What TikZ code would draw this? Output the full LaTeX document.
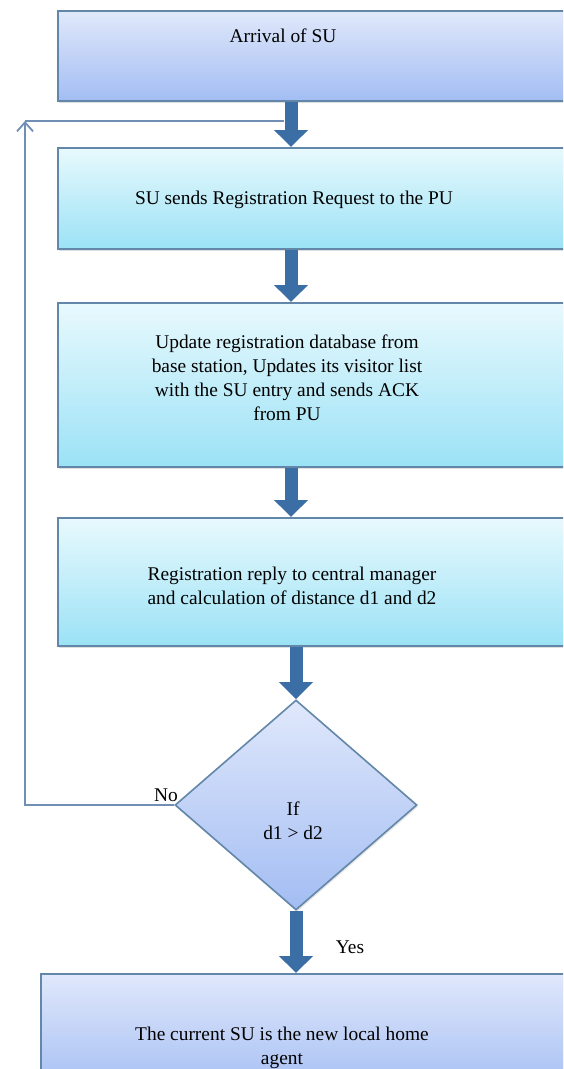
\documentclass[tikz,border=0pt]{standalone}
\usepackage{fontspec}
\setmainfont{Liberation Serif}
\newfontfamily\tnr{Liberation Serif}
\usetikzlibrary{arrows.meta,shapes.geometric,shadows}
\definecolor{edgec}{HTML}{6287A8}
\definecolor{lavtop}{HTML}{E0E8FB}
\definecolor{lavbot}{HTML}{A3BDF3}
\definecolor{cyantop}{HTML}{E8F9FD}
\definecolor{cyanbot}{HTML}{9BE2F6}
\definecolor{arrowc}{HTML}{3C6EA6}
\definecolor{loopc}{HTML}{6F8FB4}
\tikzset{
  boxbase/.style={draw=edgec, line width=2.2pt, anchor=north west, inner sep=0pt,
    drop shadow={opacity=0.25, shadow xshift=1pt, shadow yshift=-2pt}},
  lavbox/.style={boxbase, top color=lavtop, bottom color=lavbot},
  cyanbox/.style={boxbase, top color=cyantop, bottom color=cyanbot},
  decision/.style={shape=diamond, draw=edgec, line width=1.6pt, inner sep=0pt,
    minimum width=242pt, minimum height=210pt, top color=lavtop, bottom color=lavbot,
    drop shadow={opacity=0.2, shadow xshift=1pt, shadow yshift=-2pt}},
  txt/.style={font=\tnr\fontsize{19.4}{24}\selectfont, align=center, inner sep=0pt, text=black},
  lbl/.style={font=\tnr\fontsize{19.4}{24}\selectfont, inner sep=0pt, text=black},
  bigarrow/.style={draw=arrowc!85!black, line width=13pt, arrowc,
    -{Triangle[width=33pt,length=17pt]}},
  loopline/.style={draw=loopc, line width=1.8pt},
}
\begin{document}
\begin{tikzpicture}[x=1pt,y=-1pt]
\clip (0,0) rectangle (563,1069);
\fill[white] (0,0) rectangle (563,1069);

% boxes
\node[lavbox, minimum width=540pt, minimum height=90pt] (b1) at (57,10) {};
\node[cyanbox, minimum width=540pt, minimum height=101pt] (b2) at (57,147) {};
\node[cyanbox, minimum width=540pt, minimum height=164pt] (b3) at (57,302) {};
\node[cyanbox, minimum width=540pt, minimum height=128pt] (b4) at (57,517) {};
\node[decision] (d) at (296,805) {};
\node[lavbox, minimum width=560pt, minimum height=120pt] (b5) at (40,973) {};

% texts
\node[txt] (t1) at (283,36) {Arrival of SU};
\node[txt] (t2) at (294,200) {SU sends Registration Request to the PU};
\node[txt] (t3) at (287,378) {Update registration database from\\base station, Updates its visitor list\\with the SU entry and sends ACK\\from PU};
\node[txt] (t4) at (292,586) {Registration reply to central manager\\and calculation of distance d1 and d2};
\node[txt] (td) at (293,821) {If\\d1 {>} d2};
\node[txt, anchor=north] (t5) at (282,1027) {The current SU is the new local home\\agent};

% labels
\node[lbl] (no) at (166,795) {No};
\node[lbl] (yes) at (350,947) {Yes};

% column coordinates
\coordinate (ax) at (291,0);
\coordinate (dx) at (296,0);

% big arrows
\draw[bigarrow] (b1.south -| ax) -- (b2.north -| ax);
\draw[bigarrow] (b2.south -| ax) -- (b3.north -| ax);
\draw[bigarrow] (b3.south -| ax) -- (b4.north -| ax);
\draw[bigarrow] (b4.south -| dx) -- (d.north);
\draw[bigarrow] (d.south) -- (b5.north -| dx);

% loop back
\coordinate (lc) at (25,805);
\coordinate (tc) at (25,121);
\coordinate (tj) at (284,121);
\draw[loopline, -{Straight Barb[length=9pt,width=16pt]}] (d.west) -- (lc) -- (tc);
\draw[loopline] (tc) -- (tj);
\end{tikzpicture}
\end{document}
